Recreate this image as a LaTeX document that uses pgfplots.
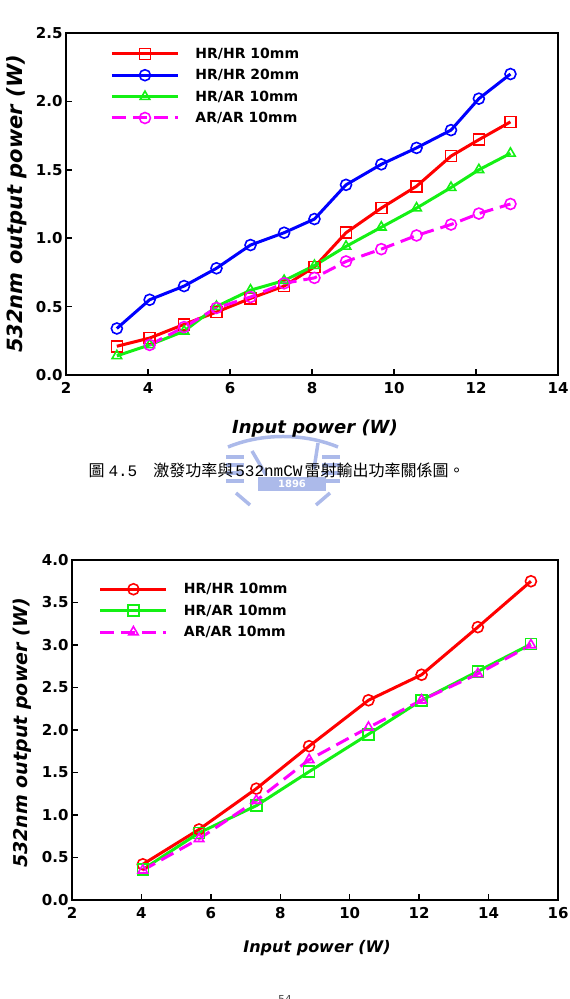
\documentclass[border=0pt]{standalone}
\usepackage{pgfplots}
\pgfplotsset{compat=1.18}
\usepackage{fontspec}
\setmainfont{DejaVu Sans}
\newfontfamily\cjk{Noto Sans CJK TC}
\newfontfamily\mono{Liberation Mono}

\definecolor{cred}{RGB}{255,0,0}
\definecolor{cblue}{RGB}{0,0,255}
\definecolor{cgreen}{RGB}{20,240,20}
\definecolor{cmag}{RGB}{255,0,255}
\definecolor{wm}{RGB}{172,186,234}

% 532 nm output, first cavity set (input W, output W)
\pgfplotstableread{
x y
3.24 0.21
4.04 0.27
4.88 0.37
5.67 0.46
6.50 0.56
7.32 0.65
8.06 0.79
8.83 1.04
9.69 1.22
10.55 1.38
11.39 1.60
12.07 1.72
12.84 1.85
}\hrhrten
\pgfplotstableread{
x y
3.24 0.34
4.04 0.55
4.88 0.65
5.67 0.78
6.50 0.95
7.32 1.04
8.06 1.14
8.83 1.39
9.69 1.54
10.55 1.66
11.39 1.79
12.07 2.02
12.84 2.20
}\hrhrtwenty
\pgfplotstableread{
x y
3.24 0.14
4.04 0.22
4.88 0.32
5.67 0.50
6.50 0.62
7.32 0.69
8.06 0.80
8.83 0.94
9.69 1.08
10.55 1.22
11.39 1.37
12.07 1.50
12.84 1.62
}\hrarten
\pgfplotstableread{
x y
4.04 0.22
4.88 0.35
5.67 0.49
6.50 0.57
7.32 0.67
8.06 0.71
8.83 0.83
9.69 0.92
10.55 1.02
11.39 1.10
12.07 1.18
12.84 1.25
}\ararten

% second cavity set
\pgfplotstableread{
x y
4.04 0.42
5.66 0.83
7.31 1.31
8.83 1.81
10.54 2.35
12.07 2.65
13.69 3.21
15.22 3.75
}\bhrhr
\pgfplotstableread{
x y
4.04 0.36
5.66 0.79
7.31 1.11
8.83 1.51
10.54 1.95
12.07 2.35
13.69 2.69
15.22 3.01
}\bhrar
\pgfplotstableread{
x y
4.04 0.35
5.66 0.72
7.31 1.17
8.83 1.65
10.54 2.03
12.07 2.35
13.69 2.66
15.22 3.00
}\barar

\pgfplotsset{
  ser/.style={line width=3pt, mark size=5.5pt,
      mark options={solid, fill=white, line width=1.6pt}},
  panel/.style={
    scale only axis,
    anchor=south west,
    axis line style={line width=2pt},
    tick style={line width=1.5pt, black},
    major tick length=6pt,
    tick align=inside,
    xtick pos=bottom, ytick pos=left,
    /pgf/number format/assume math mode=true,
    ticklabel style={font=\bfseries\fontsize{15}{15}\selectfont},
    xticklabel style={yshift=-4pt},
    yticklabel style={/pgf/number format/.cd, fixed, fixed zerofill, precision=1},
    legend style={draw=none, fill=none, inner sep=0pt,
      font=\bfseries\fontsize{14}{16}\selectfont, row sep=7.5pt,
      nodes={inner sep=1pt},
      /tikz/every odd column/.append style={column sep=15pt}},
    legend cell align=left,
    legend image code/.code={%
      \draw[mark repeat=2, mark phase=2]
        plot coordinates {(0pt,0pt) (33pt,0pt) (66pt,0pt)};},
  },
}

\begin{document}
\begin{tikzpicture}
\path[use as bounding box] (0pt,0pt) rectangle (570pt,999pt);

% faint university emblem behind the caption
\begin{scope}[wm, line width=3.5pt]
  \draw (228pt,552pt) .. controls (262pt,566pt) and (304pt,566pt) .. (338pt,552pt);
  \foreach \yy in {542,534,526,518} {\draw (226pt,\yy pt) -- (244pt,\yy pt); \draw (322pt,\yy pt) -- (340pt,\yy pt);}
  \draw (252pt,548pt) -- (266pt,524pt);
  \draw (318pt,556pt) -- (314pt,530pt);
  \draw (236pt,506pt) -- (250pt,494pt);
  \draw (330pt,506pt) -- (316pt,494pt);
  \fill (258pt,508pt) rectangle (326pt,522pt);
  \node[text=white, font=\bfseries\fontsize{10}{10}\selectfont] at (292pt,515pt) {1896};
\end{scope}

\begin{axis}[panel, at={(66pt,624pt)}, width=492pt, height=342pt,
  xmin=2, xmax=14, ymin=0, ymax=2.5,
  xtick={2,4,...,14}, ytick={0,0.5,...,2.5},
  legend style={at={(axis description cs:0.09,0.96)}, anchor=north west}]
\addplot[ser, cred, mark=square] table {\hrhrten};
\addlegendentry{HR/HR 10mm}
\addplot[ser, cblue, mark=o] table {\hrhrtwenty};
\addlegendentry{HR/HR 20mm}
\addplot[ser, cgreen, mark=triangle] table {\hrarten};
\addlegendentry{HR/AR 10mm}
\addplot[ser, cmag, mark=o, dash pattern=on 14pt off 7pt] table {\ararten};
\addlegendentry{AR/AR 10mm}
\end{axis}

\node[rotate=90, font=\bfseries\itshape\fontsize{21}{21}\selectfont] at (17pt,795pt) {532nm output power (W)};
\node[font=\bfseries\itshape\fontsize{18}{18}\selectfont] at (315pt,570pt) {Input power (W)};

\node[anchor=west, font=\fontsize{16}{16}\selectfont] at (85pt,529pt)
  {\cjk 圖\hspace{4pt}\mono 4.5\hspace{16pt}\cjk 激發功率與\hspace{2pt}\mono 532nmCW\hspace{2pt}\cjk 雷射輸出功率關係圖。};

\begin{axis}[panel, at={(72pt,99pt)}, width=486pt, height=340pt,
  xmin=2, xmax=16, ymin=0, ymax=4,
  xtick={2,4,...,16}, ytick={0,0.5,...,4},
  legend style={at={(axis description cs:0.055,0.935)}, anchor=north west}]
\addplot[ser, cred, mark=o] table {\bhrhr};
\addlegendentry{HR/HR 10mm}
\addplot[ser, cgreen, mark=square] table {\bhrar};
\addlegendentry{HR/AR 10mm}
\addplot[ser, cmag, mark=triangle, dash pattern=on 14pt off 7pt] table {\barar};
\addlegendentry{AR/AR 10mm}
\end{axis}

\node[rotate=90, font=\bfseries\itshape\fontsize{19}{19}\selectfont] at (22pt,266pt) {532nm output power (W)};
\node[font=\bfseries\itshape\fontsize{16}{16}\selectfont] at (317pt,51pt) {Input power (W)};

\node[anchor=north, text=black!70, font=\fontsize{11}{11}\selectfont] at (285pt,7pt) {54};
\end{tikzpicture}
\end{document}
